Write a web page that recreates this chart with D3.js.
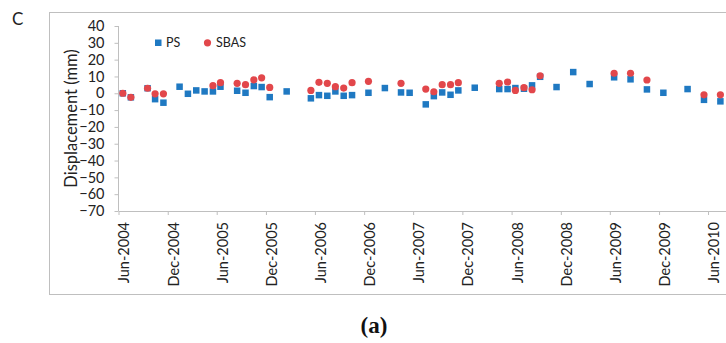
<!DOCTYPE html>
<html>
<head>
<meta charset="utf-8">
<script src="https://cdn.jsdelivr.net/npm/d3@7"></script>
<style>
  body { margin: 0; background: #fff; }
  svg { display: block; }
</style>
</head>
<body>
<div id="chart"></div>
<script>
// acquisition dates and displacements (mm)
var dates = [
  "2004-06-17", "2004-07-17", "2004-09-17", "2004-10-15", "2004-11-15",
  "2005-01-14", "2005-02-14", "2005-03-17", "2005-04-17", "2005-05-18",
  "2005-06-15", "2005-08-16", "2005-09-16", "2005-10-17", "2005-11-15",
  "2005-12-15", "2006-02-16", "2006-05-17", "2006-06-16", "2006-07-17",
  "2006-08-16", "2006-09-16", "2006-10-17", "2006-12-17", "2007-02-16",
  "2007-04-17", "2007-05-19", "2007-07-18", "2007-08-17", "2007-09-17",
  "2007-10-18", "2007-11-16", "2008-01-16", "2008-04-16", "2008-05-17",
  "2008-06-15", "2008-07-17", "2008-08-16", "2008-09-15", "2008-11-15",
  "2009-01-16", "2009-03-18", "2009-06-17", "2009-08-17", "2009-10-17",
  "2009-12-17", "2010-03-17", "2010-05-17", "2010-07-17"
]
var psValues = [
  0, -2.4, 3, -3.5, -5.6,
  3.9, -0.3, 1.7, 1.1, 1.1,
  3.9, 1.5, 0.3, 4.3, 3.7,
  -2.3, 1.1, -3.0, -1.1, -1.5,
  1.1, -1.5, -1.1, 0.3, 3.1,
  0.5, 0.3, -6.6, -1.7, 0.5,
  -0.9, 1.7, 3.3, 2.5, 2.5,
  3.1, 2.7, 4.7, 9.8, 3.7,
  12.6, 5.5, 9.5, 8.3, 2.3,
  0.3, 2.5, -3.9, -4.8
]
var sbasValues = [
  0, -2.4, 3, -0.3, -0.3,
  null, null, null, null, 4.5,
  6.3, 5.9, 5.1, 8.0, 9.2,
  3.5, null, 1.7, 6.5, 5.9,
  3.9, 3.1, 6.3, 7.1, null,
  5.9, null, 2.5, 0.9, 5.1,
  5.1, 6.3, null, 5.9, 6.7,
  1.7, 3.3, 2.1, 10.4, null,
  null, null, 11.9, 11.9, 7.9,
  null, null, -0.9, -0.9
]
var yTicks = [40, 30, 20, 10, 0, -10, -20, -30, -40, -50, -60, -70]
var xTickDates = [
  "2004-06-01", "2004-12-01", "2005-06-01", "2005-12-01", "2006-06-01",
  "2006-12-01", "2007-06-01", "2007-12-01", "2008-06-01", "2008-12-01",
  "2009-06-01", "2009-12-01", "2010-06-01"
]
var seriesNames = ["PS", "SBAS"]

var blue = "#1f79c2", red = "#e2474b", grey = "#bfbfbf"
var font = "Lato, 'Open Sans', sans-serif"

var width = 726, height = 343
var parse = d3.timeParse("%Y-%m-%d")
var fmt = d3.timeFormat("%b-%Y")

var svg = d3.select("#chart")
    .append("svg")
    .attr("width", width)
    .attr("height", height)

// frame around the chart
svg.append("rect")
    .attr("x", 49.5)
    .attr("y", 12.5)
    .attr("width", 700)
    .attr("height", 282)
    .attr("fill", "none")
    .attr("stroke", grey)

var x = d3.scaleTime()
    .domain([parse("2004-06-01"), parse("2010-08-15")])
    .range([118.5, 728.2])

var y = d3.scaleLinear()
    .domain([-70, 40])
    .range([211, 26])

// y axis
var yAxis = svg.append("g")
    .attr("transform", "translate(118.5,0)")
    .call(d3.axisLeft(y).tickValues(yTicks).tickSize(4).tickPadding(10))
yAxis.select(".domain").attr("stroke", grey).attr("d", "M0," + y(40) + "V" + y(-70))
yAxis.selectAll(".tick line").attr("stroke", grey)
yAxis.selectAll("text")
    .attr("font-family", font)
    .attr("font-size", "14.5px")
    .attr("fill", "#222")

// x axis
var xAxis = svg.append("g")
    .attr("transform", "translate(0," + y(-70) + ")")
    .call(d3.axisBottom(x).tickValues(xTickDates.map(parse)).tickFormat(fmt).tickSize(4).tickSizeOuter(0))
xAxis.select(".domain").attr("stroke", grey)
xAxis.selectAll(".tick line").attr("stroke", grey)
xAxis.selectAll("text")
    .attr("font-family", font)
    .attr("font-size", "14.5px")
    .attr("fill", "#222")
    .attr("text-anchor", "end")
    .attr("transform", "rotate(-90)")
    .attr("x", -11)
    .attr("y", 0)
    .attr("dy", "0.72em")

svg.append("text")
    .attr("transform", "translate(77,118.5) rotate(-90)")
    .attr("text-anchor", "middle")
    .attr("font-family", font)
    .attr("font-size", "16.5px")
    .attr("fill", "#222")
    .text("Displacement (mm)")

var ps = dates.map((d, i) => ({ date: parse(d), value: psValues[i] }))
var sbas = dates.map((d, i) => ({ date: parse(d), value: sbasValues[i] }))
    .filter(d => d.value !== null)

var s = 6.5
svg.append("g").selectAll("rect")
    .data(ps)
    .enter().append("rect")
    .attr("x", d => x(d.date) - s / 2)
    .attr("y", d => y(d.value) - s / 2)
    .attr("width", s)
    .attr("height", s)
    .attr("fill", blue)

svg.append("g").selectAll("circle")
    .data(sbas)
    .enter().append("circle")
    .attr("cx", d => x(d.date))
    .attr("cy", d => y(d.value))
    .attr("r", 3.6)
    .attr("fill", red)

// legend
var legend = svg.append("g").attr("font-family", font).attr("font-size", "12.5px").attr("fill", "#222")
legend.append("rect").attr("x", 155).attr("y", 39.5).attr("width", 6.5).attr("height", 6.5).attr("fill", blue)
legend.append("text").attr("x", 166).attr("y", 47).text(seriesNames[0])
legend.append("circle").attr("cx", 207.5).attr("cy", 42.8).attr("r", 3.6).attr("fill", red)
legend.append("text").attr("x", 216).attr("y", 47).text(seriesNames[1])

svg.append("text")
    .attr("x", 12)
    .attr("y", 25)
    .attr("font-family", font)
    .attr("font-size", "17px")
    .attr("fill", "#222")
    .text("C")

svg.append("text")
    .attr("x", 374)
    .attr("y", 333)
    .attr("text-anchor", "middle")
    .attr("font-family", "'Liberation Serif', serif")
    .attr("font-weight", "bold")
    .attr("font-size", "23px")
    .attr("fill", "#111")
    .text("(a)")
</script>
</body>
</html>
